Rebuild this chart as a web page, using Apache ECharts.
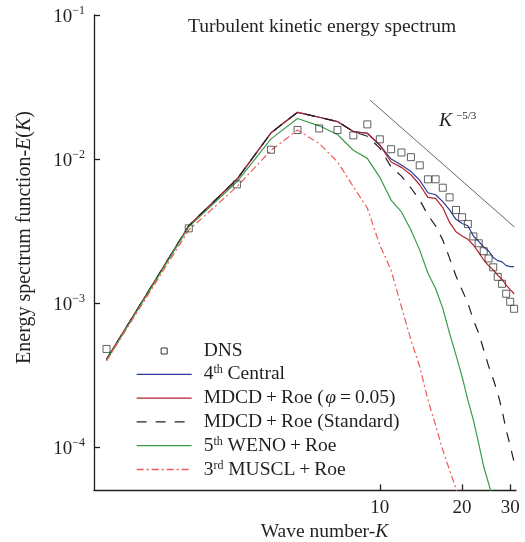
<!DOCTYPE html>
<html><head><meta charset="utf-8">
<script src="https://cdn.jsdelivr.net/npm/echarts@6/dist/echarts.min.js"></script>
<style>html,body{margin:0;padding:0;background:#fff}#c{width:525px;height:542px}</style>
</head><body><div id="c"></div>
<script>
const waveNumbers = [1,2,3,4,5,6,7,8,9,10,11,12,13,14,15,16,17,18,19,20,21,22,23,24,25,26,27,28,29,30,31];
const dns = [4.8e-4,3.30e-3,6.67e-3,1.16e-2,1.59e-2,1.63e-2,1.59e-2,1.46e-2,1.74e-2,1.37e-2,1.17e-2,1.11e-2,1.03e-2,9.04e-3,7.23e-3,7.23e-3,6.32e-3,5.42e-3,4.43e-3,3.94e-3,3.54e-3,2.90e-3,2.60e-3,2.29e-3,2.04e-3,1.77e-3,1.52e-3,1.36e-3,1.16e-3,1.02e-3,9.12e-4];
const central4 = [4.06e-4,3.44e-3,7.23e-3,1.52e-2,2.11e-2,1.95e-2,1.82e-2,1.55e-2,1.51e-2,1.25e-2,1.0e-2,9.08e-3,8.2e-3,7.1e-3,5.83e-3,5.65e-3,5.06e-3,4.43e-3,3.81e-3,3.57e-3,3.44e-3,2.92e-3,2.68e-3,2.45e-3,2.30e-3,2.07e-3,1.97e-3,1.93e-3,1.82e-3,1.79e-3,1.79e-3];
const mdcdPhi = [4.06e-4,3.44e-3,7.23e-3,1.52e-2,2.11e-2,1.95e-2,1.82e-2,1.55e-2,1.51e-2,1.25e-2,9.53e-3,8.75e-3,7.78e-3,6.6e-3,5.42e-3,5.33e-3,4.6e-3,3.63e-3,3.13e-3,2.92e-3,2.77e-3,2.53e-3,2.25e-3,1.99e-3,1.82e-3,1.70e-3,1.56e-3,1.46e-3,1.33e-3,1.24e-3,1.16e-3];
const mdcdStd = [4.06e-4,3.44e-3,7.23e-3,1.52e-2,2.11e-2,1.95e-2,1.82e-2,1.55e-2,1.44e-2,1.19e-2,8.80e-3,7.61e-3,6.29e-3,5.19e-3,4.08e-3,3.43e-3,2.74e-3,2.05e-3,1.54e-3,1.23e-3,1.0e-3,7.62e-4,6.19e-4,4.72e-4,3.65e-4,2.97e-4,2.37e-4,1.81e-4,1.31e-4,1.02e-4,7.87e-5];
const weno5 = [4.0e-4,3.38e-3,6.95e-3,1.38e-2,1.91e-2,1.70e-2,1.48e-2,1.15e-2,1.01e-2,7.46e-3,5.19e-3,4.29e-3,3.21e-3,2.33e-3,1.61e-3,1.26e-3,9.18e-4,6.16e-4,4.35e-4,3.08e-4,2.12e-4,1.54e-4,1.06e-4,7.3e-5,5.6e-5,4.3e-5];
const muscl3 = [3.97e-4,3.21e-3,6.43e-3,1.15e-2,1.59e-2,1.28e-2,9.57e-3,6.43e-3,4.57e-3,2.53e-3,1.69e-3,9.4e-4,5.53e-4,3.61e-4,2.12e-4,1.42e-4,9.53e-5,6.9e-5,5.16e-5,3.8e-5];
const slopeK = [9.2, 31.1];
const slopeE = [2.57e-2, 3.37e-3];
const xTicks = [10, 20, 30];
const yTicks = [1e-4, 1e-3, 1e-2, 1e-1];
const seriesNames = ['DNS', '4th Central', 'MDCD+Roe (φ=0.05)', 'MDCD+Roe (Standard)', '5th WENO+Roe', '3rd MUSCL+Roe'];

const FONT = 'Liberation Serif';
const INK = '#231f20';
const pairs = (xs, ys) => ys.map((v, i) => [xs[i], v]);
const legendText = {
  'DNS': 'DNS',
  '4th Central': '4{sup|th} Central',
  'MDCD+Roe (φ=0.05)': 'MDCD\u2009+\u2009Roe (\u200A{it|φ}\u2009=\u20090.05)',
  'MDCD+Roe (Standard)': 'MDCD\u2009+\u2009Roe (Standard)',
  '5th WENO+Roe': '5{sup|th} WENO\u2009+\u2009Roe',
  '3rd MUSCL+Roe': '3{sup|rd} MUSCL\u2009+\u2009Roe'
};

const chart = echarts.init(document.getElementById('c'), null, {renderer: 'canvas'});
const lineSeries = (name, data, color, type, z) => ({
  name, type: 'line', data: pairs(waveNumbers, data), symbol: 'none', z,
  lineStyle: {color, width: 1.2, type}, itemStyle: {color}, clip: true, silent: true
});
const lineLegend = name => ({name, itemStyle: {opacity: 0}});

chart.setOption({
  animation: false,
  backgroundColor: '#fff',
  title: {
    text: 'Turbulent kinetic energy spectrum', left: 188, top: 17, padding: 0,
    textStyle: {fontFamily: FONT, fontSize: 19.5, fontWeight: 'normal', color: INK}
  },
  grid: {left: 94, right: 9, top: 15, bottom: 51.6, containLabel: false, outerBoundsMode: 'none'},
  xAxis: {
    type: 'log', logBase: 10, min: 0.9, max: 31.5,
    axisLine: {lineStyle: {color: INK, width: 1.3}},
    axisTick: {inside: true, length: 6, customValues: xTicks, lineStyle: {color: INK, width: 1.3}},
    minorTick: {show: false},
    axisLabel: {customValues: xTicks, margin: 8, fontFamily: FONT, fontSize: 19, color: INK, formatter: v => String(Math.round(v))},
    splitLine: {show: false}
  },
  yAxis: {
    type: 'log', logBase: 10, min: 5e-5, max: 0.1,
    axisLine: {lineStyle: {color: INK, width: 1.3}},
    axisTick: {inside: true, length: 6, customValues: yTicks, lineStyle: {color: INK, width: 1.3}},
    minorTick: {show: false},
    axisLabel: {
      customValues: yTicks, margin: 9, fontFamily: FONT, color: INK,
      formatter: v => '{b|10}{s|−' + Math.round(-Math.log10(v)) + '}',
      rich: {
        b: {fontFamily: FONT, fontSize: 19, lineHeight: 20, color: INK, padding: [4, 0, 0, 0]},
        s: {fontFamily: FONT, fontSize: 12, lineHeight: 12, verticalAlign: 'top', color: INK}
      }
    },
    splitLine: {show: false}
  },
  legend: {
    orient: 'vertical', left: 136, top: 340.5, padding: 0, itemWidth: 55, itemHeight: 14, itemGap: 3.8,
    selectedMode: false,
    lineStyle: {width: 1.3},
    data: [
      {name: seriesNames[0], icon: 'path://M0 0M55 14M24.5 4.5h6v6h-6z', itemStyle: {color: 'rgba(0,0,0,0)', borderColor: '#333', borderWidth: 1, opacity: 1}},
      lineLegend(seriesNames[1]), lineLegend(seriesNames[2]), lineLegend(seriesNames[3]), lineLegend(seriesNames[4]), lineLegend(seriesNames[5])
    ],
    formatter: n => legendText[n],
    textStyle: {
      fontFamily: FONT, fontSize: 19.5, lineHeight: 20, color: INK, padding: [0, 0, 0, 7],
      rich: {
        sup: {fontFamily: FONT, fontSize: 12, lineHeight: 12, verticalAlign: 'top', color: INK},
        it: {fontFamily: FONT, fontSize: 19.5, fontStyle: 'italic', color: INK}
      }
    }
  },
  graphic: [
    {type: 'text', x: 25, y: 237.5, rotation: Math.PI / 2, silent: true,
      style: {text: '{t|Energy spectrum function-}{i|E}{t|(}{i|K}{t|)}', align: 'center', verticalAlign: 'middle',
        rich: {t: {fontFamily: FONT, fontSize: 20, fill: INK}, i: {fontFamily: FONT, fontSize: 20, fontStyle: 'italic', fill: INK}}}},
    {type: 'text', x: 324.5, y: 532, silent: true,
      style: {text: '{t|Wave number-}{i|K}', align: 'center', verticalAlign: 'middle',
        rich: {t: {fontFamily: FONT, fontSize: 19.5, fill: INK}, i: {fontFamily: FONT, fontSize: 19.5, fontStyle: 'italic', fill: INK}}}},
    {type: 'text', x: 439, y: 121, silent: true,
      style: {text: '{k|K}{s|−5/3}', align: 'left', verticalAlign: 'middle',
        rich: {k: {fontFamily: FONT, fontSize: 19.5, fontStyle: 'italic', fill: INK, lineHeight: 20, padding: [0, 4, 0, 0]},
               s: {fontFamily: FONT, fontSize: 11, lineHeight: 11, verticalAlign: 'top', fill: INK}}}}
  ],
  series: [
    {name: 'slope', type: 'line', data: pairs(slopeK, slopeE), symbol: 'none', silent: true, z: 1,
      lineStyle: {color: '#555', width: 0.9}},
    lineSeries(seriesNames[1], central4, '#2b3a96', 'solid', 2),
    lineSeries(seriesNames[2], mdcdPhi, '#b3202c', 'solid', 3),
    lineSeries(seriesNames[3], mdcdStd, '#231f20', [10, 9], 4),
    lineSeries(seriesNames[4], weno5, '#3a9a48', 'solid', 5),
    lineSeries(seriesNames[5], muscl3, '#f05a5a', [7, 3, 2, 3], 6),
    {name: seriesNames[0], type: 'scatter', data: pairs(waveNumbers, dns), symbol: 'rect', symbolSize: 7, z: 7, silent: true,
      itemStyle: {color: 'rgba(255,255,255,0)', borderColor: '#3a3a3a', borderWidth: 1}}
  ]
});
</script>
</body></html>
